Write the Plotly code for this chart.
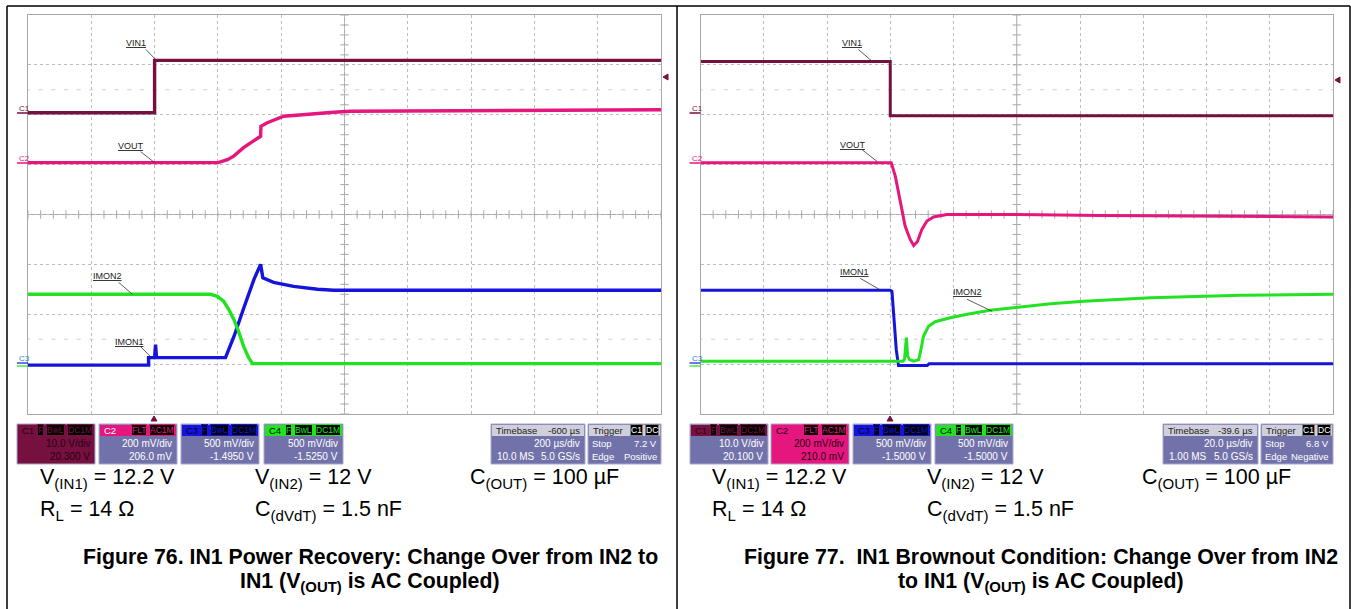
import plotly.graph_objects as go

W, H = 1351, 609
FONT = "Liberation Sans, Arial, sans-serif"

# ---------------- data ----------------
# Figure 76: 200 us/div, trigger at t = 0 us; vertical values in screen divisions
t76_vin1 = [-400, 0, 0, 1600]
v76_vin1 = [2.04, 2.04, 3.09, 3.09]
t76_vout = [-400, 201, 230, 250, 281, 313, 335, 336, 356, 408, 461, 566, 619, 1600]
v76_vout = [1.04, 1.04, 1.10, 1.17, 1.34, 1.47, 1.57, 1.77, 1.84, 1.97, 2.00, 2.05, 2.07, 2.10]
t76_imon1 = [-400, -19, -19, 0, 3, 6, 224, 251, 282, 314, 335, 342, 376, 439, 515, 566, 1600]
v76_imon1 = [-3.02, -3.02, -2.87, -2.87, -2.61, -2.87, -2.87, -2.44, -1.87, -1.30, -1.00, -1.27,
             -1.36, -1.44, -1.50, -1.52, -1.52]
t76_imon2 = [-400, 177, 198, 218, 234, 250, 265, 281, 297, 309, 1600]
v76_imon2 = [-1.60, -1.60, -1.64, -1.74, -1.90, -2.10, -2.34, -2.64, -2.87, -2.99, -2.99]

# Figure 77: 20 us/div, trigger at t = 0 us
t77_vin1 = [-60, 0, 0, 140]
v77_vin1 = [3.07, 3.07, 1.98, 1.98]
t77_vout = [-60, 0.3, 1.6, 2.6, 3.7, 4.7, 6.3, 7.4, 8.6, 10.0, 11.6, 13.7, 17.9, 38.9, 66.5, 140]
v77_vout = [1.04, 1.04, 0.77, 0.43, 0.03, -0.23, -0.50, -0.62, -0.54, -0.30, -0.13, -0.05,
            0.0, 0.0, -0.02, -0.05]
t77_imon1 = [-60, 0, 0.54, 0.85, 1.36, 1.9, 2.44, 2.6, 11.7, 12.3, 140]
v77_imon1 = [-1.52, -1.52, -1.54, -1.90, -2.24, -2.71, -3.01, -3.03, -3.03, -2.99, -2.99]
t77_imon2 = [-60, 4.0, 4.5, 5.1, 5.5, 6.1, 7.4, 9.0, 9.7, 10.5, 12.1, 14.2, 19.0, 24.3, 31.6,
             40.1, 50.7, 61.2, 71.8, 82.4, 110.9, 140]
v77_imon2 = [-2.94, -2.94, -2.91, -2.47, -2.84, -2.91, -2.94, -2.91, -2.71, -2.44, -2.24, -2.15,
             -2.07, -2.00, -1.92, -1.86, -1.79, -1.74, -1.70, -1.67, -1.62, -1.60]

# scope readouts
ch_names = ["C1", "C2", "C3", "C4"]
ch_badges = [["F", "BwL", "DC1M"], ["FLT", "AC1M"], ["F", "BwL", "DC1M"], ["F", "BwL", "DC1M"]]
ch_scale = ["10.0 V/div", "200 mV/div", "500 mV/div", "500 mV/div"]
ch_offset_76 = ["20.300 V", "206.0 mV", "-1.4950 V", "-1.5250 V"]
ch_offset_77 = ["20.100 V", "210.0 mV", "-1.5000 V", "-1.5000 V"]
tb_76 = ["-600 µs", "200 µs/div", "10.0 MS", "5.0 GS/s"]
tb_77 = ["-39.6 µs", "20.0 µs/div", "1.00 MS", "5.0 GS/s"]
trig_76 = ["7.2 V", "Positive"]
trig_77 = ["6.8 V", "Negative"]

params_line1 = ["V<sub>(IN1)</sub> = 12.2 V", "V<sub>(IN2)</sub> = 12 V", "C<sub>(OUT)</sub> = 100 µF"]
params_line2 = ["R<sub>L</sub> = 14 Ω", "C<sub>(dVdT)</sub> = 1.5 nF"]
title76 = ["Figure 76. IN1 Power Recovery: Change Over from IN2 to",
           "IN1 (V<sub>(OUT)</sub> is AC Coupled)"]
title77 = ["Figure 77.\u00a0 IN1 Brownout Condition: Change Over from IN2",
           "to IN1 (V<sub>(OUT)</sub> is AC Coupled)"]

# ---------------- style ----------------
C_VIN = "#76103f"
C_VOUT = "#e5167d"
C_BLUE = "#1414dc"
C_GREEN = "#22e222"
SLATE = "#7272aa"
GRID = "#bcbcbc"


def px(x):
    return x / W


def py(y):
    return 1 - y / H


fig = go.Figure()
shapes = []
annots = []


def rect(x0, y0, x1, y1, fill, line=None, lw=0):
    shapes.append(dict(type="rect", xref="paper", yref="paper", x0=px(x0), x1=px(x1),
                       y0=py(y1), y1=py(y0), fillcolor=fill,
                       line=dict(color=line or fill, width=lw), layer="above"))


def pline(x0, y0, x1, y1, color, w=1):
    shapes.append(dict(type="line", xref="paper", yref="paper", x0=px(x0), x1=px(x1),
                       y0=py(y0), y1=py(y1), line=dict(color=color, width=w), layer="above"))


def ptext(s, x, y, size, color, xa="left", ya="middle", bg=None, border=None):
    d = dict(text=s, x=px(x), y=py(y), xref="paper", yref="paper", xanchor=xa, yanchor=ya,
             showarrow=False, font=dict(family=FONT, size=size, color=color))
    if bg:
        d.update(bgcolor=bg, borderpad=0)
    if border:
        d.update(bordercolor=border, borderwidth=1)
    annots.append(d)


def tri(points, color):
    p = "M " + " L ".join(f"{px(a)},{py(b)}" for a, b in points) + " Z"
    shapes.append(dict(type="path", xref="paper", yref="paper", path=p, fillcolor=color,
                       line=dict(color=color, width=1), layer="above"))


CW = {"F": .611, "L": .556, "T": .611, "A": .667, "C": .722, "D": .722, "M": .833,
      "B": .667, "w": .722, "1": .556}


def tw(s, size):
    return sum(CW.get(c, .556) for c in s) * size


ax_common = dict(showgrid=True, griddash="dot", gridcolor=GRID, gridwidth=1,
                 showline=True, mirror=True, linecolor="#a8a8a8", linewidth=1,
                 zeroline=False, showticklabels=False, ticks="", fixedrange=True)

panels = [
    dict(xa="x", ya="y", rng=[-400, 1600], dt=200, center=600, lw=3.4,
         traces=[(t76_vin1, v76_vin1, C_VIN), (t76_vout, v76_vout, C_VOUT),
                 (t76_imon1, v76_imon1, C_BLUE), (t76_imon2, v76_imon2, C_GREEN)]),
    dict(xa="x2", ya="y2", rng=[-60, 140], dt=20, center=40, lw=3.0,
         traces=[(t77_vin1, v77_vin1, C_VIN), (t77_vout, v77_vout, C_VOUT),
                 (t77_imon1, v77_imon1, C_BLUE), (t77_imon2, v77_imon2, C_GREEN)]),
]

for p in panels:
    lo, hi = p["rng"]
    sub = (hi - lo) / 50.0
    xs_sub = [lo + sub * k for k in range(51)]
    ys_sub = [-4 + 0.2 * k for k in range(41)]
    # centre graticule lines
    shapes.append(dict(type="line", xref=p["xa"], yref=p["ya"], x0=lo, x1=hi, y0=0, y1=0,
                       line=dict(color="#a8a8a8", width=1), layer="below"))
    shapes.append(dict(type="line", xref=p["xa"], yref=p["ya"], x0=p["center"], x1=p["center"],
                       y0=-4, y1=4, line=dict(color="#a8a8a8", width=1), layer="below"))
    # sub-division ticks on centre lines
    fig.add_trace(go.Scatter(x=xs_sub, y=[0] * len(xs_sub), xaxis=p["xa"], yaxis=p["ya"],
                             mode="markers", hoverinfo="skip", showlegend=False,
                             marker=dict(symbol="line-ns", size=6,
                                         line=dict(width=1, color="#a8a8a8"))))
    fig.add_trace(go.Scatter(x=[p["center"]] * len(ys_sub), y=ys_sub, xaxis=p["xa"], yaxis=p["ya"],
                             mode="markers", hoverinfo="skip", showlegend=False,
                             marker=dict(symbol="line-ew", size=6,
                                         line=dict(width=1, color="#a8a8a8"))))
    # sparse dotted rows
    for yy in (2.5, -2.5):
        fig.add_trace(go.Scatter(x=xs_sub, y=[yy] * len(xs_sub), xaxis=p["xa"], yaxis=p["ya"],
                                 mode="markers", hoverinfo="skip", showlegend=False,
                                 marker=dict(symbol="line-ew", size=3,
                                             line=dict(width=1, color="#cfcfcf"))))
    for tx, vy, col in p["traces"]:
        fig.add_trace(go.Scatter(x=tx, y=vy, xaxis=p["xa"], yaxis=p["ya"], mode="lines",
                                 hoverinfo="skip", showlegend=False,
                                 line=dict(color=col, width=p["lw"])))

# trace labels with leader lines (in each panel's data coordinates)
labels76 = [("VIN1", -60, 3.43, (-28, 3.31), (3, 3.11)),
            ("VOUT", -76, 1.38, (-44, 1.26), (0, 1.04)),
            ("IMON2", -149, -1.24, (-114, -1.36), (-70, -1.60)),
            ("IMON1", -79, -2.55, (-44, -2.65), (-13, -2.85))]
labels77 = [("VIN1", -12.0, 3.43, (-10.1, 3.31), (-5.7, 3.07)),
            ("VOUT", -11.7, 1.40, (-8.9, 1.30), (-4.1, 1.06)),
            ("IMON1", -11.4, -1.16, (-9.5, -1.28), (-3.2, -1.51)),
            ("IMON2", 24.4, -1.56, (24.3, -1.70), (32.2, -1.94))]
for labs, xa, ya in ((labels76, "x", "y"), (labels77, "x2", "y2")):
    for name, lx, ly, a, b in labs:
        annots.append(dict(text=f"<u>{name}</u>", x=lx, y=ly, xref=xa, yref=ya,
                           showarrow=False, xanchor="center", yanchor="middle",
                           font=dict(family=FONT, size=9, color="#222222")))
        shapes.append(dict(type="line", xref=xa, yref=ya, x0=a[0], y0=a[1], x1=b[0], y1=b[1],
                           line=dict(color="#333333", width=0.8), layer="above"))

# outer frame
pline(7, 6, 1350, 6, "black", 1.5)
pline(7, 6, 7, 609, "black", 1.5)
pline(1350, 6, 1350, 609, "black", 1.5)
pline(677, 6, 677, 609, "black", 1.5)

# channel ground markers, trigger markers
for gx in (28, 700.5):
    ox = gx - 28
    ptext("C1", 17 + ox, 108, 8, C_VIN)
    pline(17 + ox, 113, 28 + ox, 113, C_VIN, 1.5)
    ptext("C2", 17 + ox, 158, 8, C_VOUT)
    pline(17 + ox, 163, 28 + ox, 163, C_VOUT, 1.5)
    ptext("C3", 17 + ox, 359, 8, "#2a7ad8")
    pline(17 + ox, 363, 28 + ox, 363, C_BLUE, 1.2)
    pline(17 + ox, 366, 28 + ox, 366, C_GREEN, 1.2)

tri([(663, 77), (668, 74), (668, 80)], C_VIN)
tri([(1335, 80), (1340, 77), (1340, 83)], C_VIN)
tri([(151, 421), (157, 421), (154, 416)], C_VIN)
tri([(887, 421), (893, 421), (890, 416)], C_VIN)

# readout boxes
NAME_COL = {"C1": "#2a0014", "C2": "#ffffff", "C3": "#000030", "C4": "#001000"}
CH_COL = {"C1": C_VIN, "C2": C_VOUT, "C3": C_BLUE, "C4": C_GREEN}
BADGE = 8.5


def chan_box(x0, x1, name, badges, scale, offset, selected):
    color = CH_COL[name]
    y0, y1, yh = 424, 464, 436
    rect(x0, y0, x1, y1, color if selected else SLATE, "#a8a8d0", 1)
    rect(x0 + 1, y0 + 1, x1 - 1, yh, color)
    ptext(name, x0 + 3, 430, 9.5, "#2a0014" if selected else NAME_COL[name])
    right = x1 - 2
    for b in reversed(badges):
        ptext(b, right, 430, BADGE, color, xa="right", bg="black", border=color)
        right -= tw(b, BADGE) + 4
    tc = "#2a0014" if selected else "white"
    ptext(scale, x1 - 3, 443.5, 10, tc, xa="right")
    ptext(offset, x1 - 3, 456.5, 10, tc, xa="right")


def tb_box(x0, x1, vals):
    rect(x0, 424, x1, 464, SLATE, "#a8a8d0", 1)
    rect(x0 + 1, 425, x1 - 1, 436, "#d0d0dc")
    ptext("Timebase", x0 + 3, 430, 9.5, "#202020")
    ptext(vals[0], x1 - 3, 430, 9.5, "#202020", xa="right")
    ptext(vals[1], x1 - 3, 443.5, 10, "white", xa="right")
    ptext(vals[2], x0 + 4, 456.5, 10, "white")
    ptext(vals[3], x1 - 3, 456.5, 10, "white", xa="right")


def trig_box(x0, x1, vals):
    rect(x0, 424, x1, 464, SLATE, "#a8a8d0", 1)
    rect(x0 + 1, 425, x1 - 1, 436, "#d0d0dc")
    ptext("Trigger", x0 + 3, 430, 9.5, "#202020")
    ptext("DC", x1 - 2, 430, BADGE, "white", xa="right", bg="black", border="#808080")
    ptext("C1", x1 - 2 - tw("DC", BADGE) - 4, 430, BADGE, "white", xa="right", bg="black",
          border="#808080")
    ptext("Stop", x0 + 2, 443.5, 9.5, "white")
    ptext(vals[0], x1 - 2, 443.5, 9.5, "white", xa="right")
    ptext("Edge", x0 + 2, 456.5, 9.5, "white")
    ptext(vals[1], x1 - 2, 456.5, 9.5, "white", xa="right")


left_boxes = [(17, 95), (99, 177), (181, 259), (264, 343)]
right_boxes = [(690, 768), (771, 849), (853, 931), (935, 1013)]
for i, (x0, x1) in enumerate(left_boxes):
    chan_box(x0, x1, ch_names[i], ch_badges[i], ch_scale[i], ch_offset_76[i], i == 0)
for i, (x0, x1) in enumerate(right_boxes):
    chan_box(x0, x1, ch_names[i], ch_badges[i], ch_scale[i], ch_offset_77[i], i == 1)
tb_box(491, 585, tb_76)
trig_box(588, 661, trig_76)
tb_box(1163, 1258, tb_77)
trig_box(1261, 1333, trig_77)

# conditions and captions
for ox, title, tcx in ((0, title76, 370), (672, title77, 1041)):
    for s, x in zip(params_line1, (38, 253, 468)):
        ptext(s, x + ox, 478, 21.5, "black")
    for s, x in zip(params_line2, (38, 253)):
        ptext(s, x + ox, 510, 21.5, "black")
    ptext(f"<b>{title[0]}</b>", tcx, 557, 21.3, "black", xa="center")
    ptext(f"<b>{title[1]}</b>", tcx, 582, 21.3, "black", xa="center")

fig.update_layout(
    width=W, height=H, autosize=False,
    margin=dict(l=0, r=0, t=0, b=0),
    paper_bgcolor="white", plot_bgcolor="white",
    showlegend=False,
    xaxis=dict(domain=[px(28), px(661)], range=[-400, 1600], dtick=200, tick0=-400,
               anchor="y", **ax_common),
    yaxis=dict(domain=[py(414), py(15)], range=[-4, 4], dtick=1, tick0=-4, anchor="x", **ax_common),
    xaxis2=dict(domain=[px(700.5), px(1333)], range=[-60, 140], dtick=20, tick0=-60,
                anchor="y2", **ax_common),
    yaxis2=dict(domain=[py(414), py(15)], range=[-4, 4], dtick=1, tick0=-4, anchor="x2",
                **ax_common),
    shapes=shapes, annotations=annots,
)

fig.write_html("out.html", config={"displayModeBar": False, "staticPlot": True},
               post_script="document.body.style.margin='0';document.body.style.overflow='hidden';")
